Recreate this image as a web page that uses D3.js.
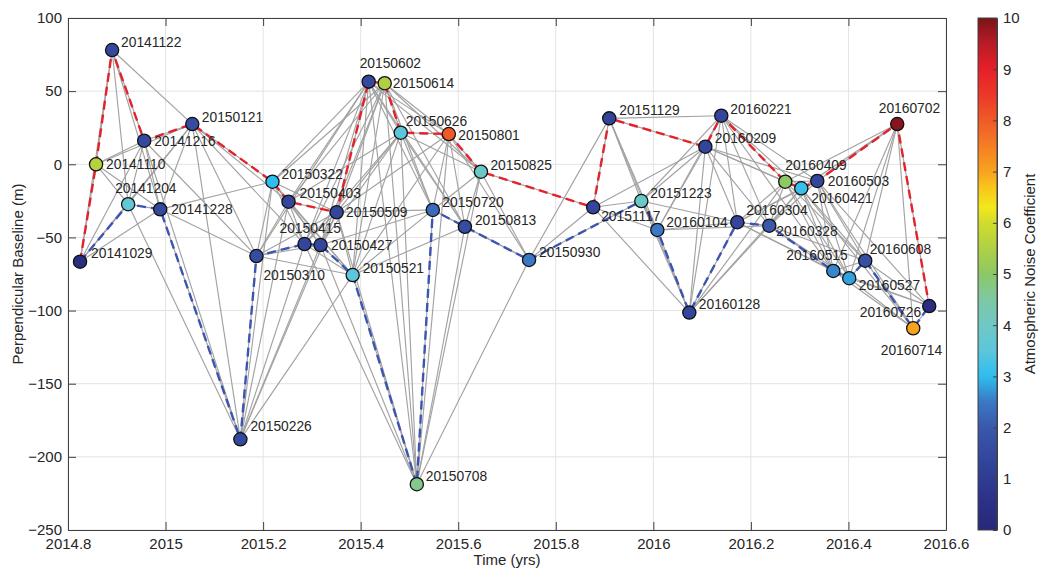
<!DOCTYPE html>
<html>
<head>
<meta charset="utf-8">
<script src="https://cdn.jsdelivr.net/npm/d3@7"></script>
<style>
body { margin: 0; background: #fff; }
text { font-family: Helvetica, "Liberation Sans", Arial, sans-serif; fill: #262626; }
</style>
</head>
<body>
<div id="canvas"></div>
<script>
"use strict"

/* Acquisition dates, time (decimal years), perpendicular baseline (m), noise coefficient */
let dates = ["20141029", "20141110", "20141122", "20141204", "20141216", "20141228",
    "20150121", "20150226", "20150310", "20150322", "20150403", "20150415", "20150427",
    "20150509", "20150521", "20150602", "20150614", "20150626", "20150708", "20150720",
    "20150801", "20150813", "20150825", "20150930", "20151117", "20151129", "20151223",
    "20160104", "20160128", "20160209", "20160221", "20160304", "20160328", "20160409",
    "20160421", "20160503", "20160515", "20160527", "20160608", "20160702", "20160714",
    "20160726"]

let times = [2014.8247, 2014.8575, 2014.8904, 2014.9233, 2014.9562, 2014.9890,
    2015.0548, 2015.1534, 2015.1863, 2015.2192, 2015.2521, 2015.2849, 2015.3178,
    2015.3507, 2015.3836, 2015.4164, 2015.4493, 2015.4822, 2015.5151, 2015.5479,
    2015.5808, 2015.6137, 2015.6466, 2015.7452, 2015.8767, 2015.9096, 2015.9753,
    2016.0082, 2016.0738, 2016.1066, 2016.1393, 2016.1721, 2016.2377, 2016.2705,
    2016.3033, 2016.3361, 2016.3689, 2016.4016, 2016.4344, 2016.5000, 2016.5328,
    2016.5656]

let bperp = [-66.6, 0, 78.1, -27.3, 16.1, -30.8, 27.5, -188.0, -62.7, -11.9, -25.6,
    -54.5, -55.2, -32.8, -75.7, 56.5, 55.4, 21.6, -218.7, -31.2, 20.7, -42.7, -5.1,
    -65.4, -29.4, 31.4, -25.1, -44.9, -101.4, 12.0, 33.2, -39.6, -42.0, -11.9, -16.4,
    -11.4, -72.9, -77.9, -65.9, 27.5, -112.1, -96.9]

let noise = [0.3, 5.6, 1.5, 3.7, 1.5, 1.5, 1.6, 1.5, 1.6, 3.0, 1.4, 1.4, 1.4, 1.4,
    3.5, 1.5, 5.5, 3.5, 4.7, 2.3, 8.0, 1.6, 3.9, 2.5, 1.4, 1.3, 3.9, 2.5, 1.4, 1.4,
    1.4, 1.4, 2.0, 5.0, 3.1, 1.4, 2.6, 2.8, 1.7, 9.9, 7.0, 0.3]

/* Interferogram network: later partners of each acquisition (by index) */
let network = [
    [1, 2, 3, 4, 5, 6], [2, 3, 4, 5, 6], [3, 4, 5, 6], [4, 5, 6, 7], [5, 6, 7, 8],
    [6, 7, 8, 9], [7, 8, 9, 10, 11], [8, 9, 10, 11, 12, 13, 14],
    [9, 10, 11, 12, 13, 14, 15], [10, 11, 12, 13, 14, 15, 16],
    [11, 12, 13, 14, 15, 16, 17], [12, 13, 14, 15, 16, 17, 18],
    [13, 14, 15, 16, 17, 18, 19], [14, 15, 16, 17, 18, 19, 20],
    [15, 16, 17, 18, 19, 20, 21], [16, 17, 18, 19, 20, 21, 22],
    [17, 18, 19, 20, 21, 22], [18, 19, 20, 21, 22], [19, 20, 21, 22, 23],
    [20, 21, 22, 23], [21, 22, 23], [22, 23], [23, 24], [24, 25, 26],
    [25, 26, 27, 28, 29], [26, 27, 28, 29, 30], [27, 28, 29, 30, 31],
    [28, 29, 30, 31, 32], [29, 30, 31, 32, 33, 34], [30, 31, 32, 33, 34, 35],
    [31, 32, 33, 34, 35, 36], [32, 33, 34, 35, 36, 37], [33, 34, 35, 36, 37, 38],
    [34, 35, 36, 37, 38, 39], [35, 36, 37, 38, 39, 40], [36, 37, 38, 39, 40, 41],
    [37, 38, 39, 40, 41], [38, 39, 40, 41], [39, 40, 41], [40, 41], [41], []
]

/* Highlighted paths (dates) */
let redPath = ["20141029", "20141110", "20141122", "20141216", "20150121", "20150322",
    "20150403", "20150509", "20150602", "20150614", "20150626", "20150801", "20150825",
    "20151117", "20151129", "20160209", "20160221", "20160409", "20160421", "20160503",
    "20160702", "20160726"]

let bluePath = ["20141029", "20141204", "20141228", "20150226", "20150310", "20150415",
    "20150427", "20150521", "20150708", "20150720", "20150813", "20150930", "20151223",
    "20160104", "20160128", "20160304", "20160328", "20160515", "20160527", "20160608",
    "20160714", "20160726"]

/* Tick values */
let xTicks = [2014.8, 2015, 2015.2, 2015.4, 2015.6, 2015.8, 2016, 2016.2, 2016.4, 2016.6]
let yTicks = [-250, -200, -150, -100, -50, 0, 50, 100]
let cTicks = [0, 1, 2, 3, 4, 5, 6, 7, 8, 9, 10]

/* label offsets from each point (layout only) */
let labelOffsets = [[11, -9], [10, 0], [9, -8], [-13, -16], [10, 0], [11, 0], [9.5, -7],
    [10, -13], [7, 19], [9, -8], [11, -9], [-25, -16], [10.5, 0], [9.5, 0], [10, -7],
    [-9, -18], [8, 0], [5, -12], [9, -8], [9.5, -8], [9.5, 1], [10, -7], [9.5, -7],
    [10, -8], [8, 9], [10, -8], [9, -8], [9, -8], [9.5, -8], [9.5, -9], [9, -7],
    [9, -12], [7, 5], [0, -17], [10, 10], [10.5, 0], [-47, -16], [9.5, 7], [4.5, -12],
    [-18.5, -16], [-32.5, 22], [-69.5, 6]]

let svgWidth = 1039
let svgHeight = 570
let plotLeft = 68
let plotRight = 946
let plotTop = 18
let plotBottom = 530

let svg = d3.select("#canvas")
    .append("svg")
    .attr("width", svgWidth)
    .attr("height", svgHeight)

let xScale = d3.scaleLinear()
    .domain([2014.8, 2016.6])
    .range([plotLeft, plotRight])

let yScale = d3.scaleLinear()
    .domain([-250, 100])
    .range([plotBottom, plotTop])

// colormap stops (blue -> cyan -> green -> yellow -> red)
let cStops = [0, 0.5, 1, 1.5, 2, 2.5, 3, 3.5, 4, 4.5, 5, 5.5, 6, 6.3, 6.7, 7, 7.5, 8, 8.5, 9, 9.5, 10]
let cColors = ["#282878", "#2b3085", "#2e3c92", "#34499e", "#3a58aa", "#3a78c4", "#2fbdee",
    "#5cc6dc", "#6fc8c4", "#7ec8a4", "#8cc866", "#b0d044", "#d0dc2c", "#f2e81c", "#f8c41c",
    "#f8a31e", "#f47e24", "#f05a28", "#ec3828", "#e61f2a", "#b81c26", "#7a1418"]
let colorScale = d3.scaleLinear()
    .domain(cStops)
    .range(cColors)
    .clamp(true)

/* grid */
svg.append("g")
    .selectAll("line")
    .data(xTicks)
    .join("line")
    .attr("x1", d => xScale(d))
    .attr("x2", d => xScale(d))
    .attr("y1", plotTop)
    .attr("y2", plotBottom)
    .attr("stroke", "#e3e3e3")

svg.append("g")
    .selectAll("line")
    .data(yTicks)
    .join("line")
    .attr("x1", plotLeft)
    .attr("x2", plotRight)
    .attr("y1", d => yScale(d))
    .attr("y2", d => yScale(d))
    .attr("stroke", "#e3e3e3")

/* network edges */
let edges = []
network.forEach(function(partners, i) {
    partners.forEach(function(j) {
        edges.push([i, j])
    })
})

svg.append("g")
    .selectAll("line")
    .data(edges)
    .join("line")
    .attr("x1", d => xScale(times[d[0]]))
    .attr("y1", d => yScale(bperp[d[0]]))
    .attr("x2", d => xScale(times[d[1]]))
    .attr("y2", d => yScale(bperp[d[1]]))
    .attr("stroke", "#a2a2a2")
    .attr("stroke-width", 1.15)

/* dashed paths */
let pathLine = d3.line()
    .x(d => xScale(times[dates.indexOf(d)]))
    .y(d => yScale(bperp[dates.indexOf(d)]))

svg.append("path")
    .attr("d", pathLine(bluePath))
    .attr("fill", "none")
    .attr("stroke", "#3d55b0")
    .attr("stroke-width", 2.4)
    .attr("stroke-dasharray", "9,5")

svg.append("path")
    .attr("d", pathLine(redPath))
    .attr("fill", "none")
    .attr("stroke", "#e3222b")
    .attr("stroke-width", 2.4)
    .attr("stroke-dasharray", "9,5")

/* points */
svg.append("g")
    .selectAll("circle")
    .data(dates)
    .join("circle")
    .attr("cx", (d, i) => xScale(times[i]))
    .attr("cy", (d, i) => yScale(bperp[i]))
    .attr("r", 6.6)
    .attr("fill", (d, i) => colorScale(noise[i]))
    .attr("stroke", "#111")
    .attr("stroke-width", 1.3)

/* point labels */
svg.append("g")
    .selectAll("text")
    .data(dates)
    .join("text")
    .attr("x", (d, i) => xScale(times[i]) + labelOffsets[i][0])
    .attr("y", (d, i) => yScale(bperp[i]) + labelOffsets[i][1])
    .attr("dy", "0.35em")
    .attr("font-size", 13.8)
    .text(d => d)

/* axes */
let xAxis = svg.append("g")
    .attr("transform", "translate(0," + plotBottom + ")")
    .call(d3.axisBottom(xScale).tickValues(xTicks).tickSize(-8).tickSizeOuter(0).tickPadding(8)
        .tickFormat(d => String(+d.toFixed(1))))

let xAxisTop = svg.append("g")
    .attr("transform", "translate(0," + plotTop + ")")
    .call(d3.axisTop(xScale).tickValues(xTicks).tickSize(-8).tickSizeOuter(0).tickFormat(""))

let yAxis = svg.append("g")
    .attr("transform", "translate(" + plotLeft + ",0)")
    .call(d3.axisLeft(yScale).tickValues(yTicks).tickSize(-8).tickSizeOuter(0).tickPadding(6))

let yAxisRight = svg.append("g")
    .attr("transform", "translate(" + plotRight + ",0)")
    .call(d3.axisRight(yScale).tickValues(yTicks).tickSize(-8).tickSizeOuter(0).tickFormat(""))

svg.selectAll(".domain, .tick line")
    .attr("stroke", "#404040")
svg.selectAll(".tick text")
    .attr("font-size", 15)
    .attr("fill", "#262626")
    .style("font-family", "Helvetica, 'Liberation Sans', Arial, sans-serif")

/* axis labels */
svg.append("text")
    .attr("x", (plotLeft + plotRight) / 2)
    .attr("y", 565)
    .attr("text-anchor", "middle")
    .attr("font-size", 15)
    .text("Time (yrs)")

svg.append("text")
    .attr("transform", "translate(23," + (plotTop + plotBottom) / 2 + ") rotate(-90)")
    .attr("text-anchor", "middle")
    .attr("font-size", 15)
    .text("Perpendicular Baseline (m)")

/* colorbar */
let cbLeft = 978
let cbWidth = 19
let cScale = d3.scaleLinear()
    .domain([0, 10])
    .range([plotBottom, plotTop])

let grad = svg.append("defs")
    .append("linearGradient")
    .attr("id", "cbGrad")
    .attr("x1", 0).attr("y1", 1)
    .attr("x2", 0).attr("y2", 0)

grad.selectAll("stop")
    .data(cStops)
    .join("stop")
    .attr("offset", d => d / 10)
    .attr("stop-color", d => colorScale(d))

svg.append("rect")
    .attr("x", cbLeft)
    .attr("y", plotTop)
    .attr("width", cbWidth)
    .attr("height", plotBottom - plotTop)
    .attr("fill", "url(#cbGrad)")
    .attr("stroke", "#404040")

let cAxis = svg.append("g")
    .attr("transform", "translate(" + (cbLeft + cbWidth) + ",0)")
    .call(d3.axisRight(cScale).tickValues(cTicks).tickSize(-4).tickSizeOuter(0).tickPadding(6))

cAxis.selectAll(".domain, .tick line")
    .attr("stroke", "#404040")
cAxis.selectAll(".tick text")
    .attr("font-size", 15)
    .attr("fill", "#262626")
    .style("font-family", "Helvetica, 'Liberation Sans', Arial, sans-serif")

svg.append("text")
    .attr("transform", "translate(1035," + (plotTop + plotBottom) / 2 + ") rotate(-90)")
    .attr("text-anchor", "middle")
    .attr("font-size", 15)
    .text("Atmospheric Noise Coefficient")
</script>
</body>
</html>
